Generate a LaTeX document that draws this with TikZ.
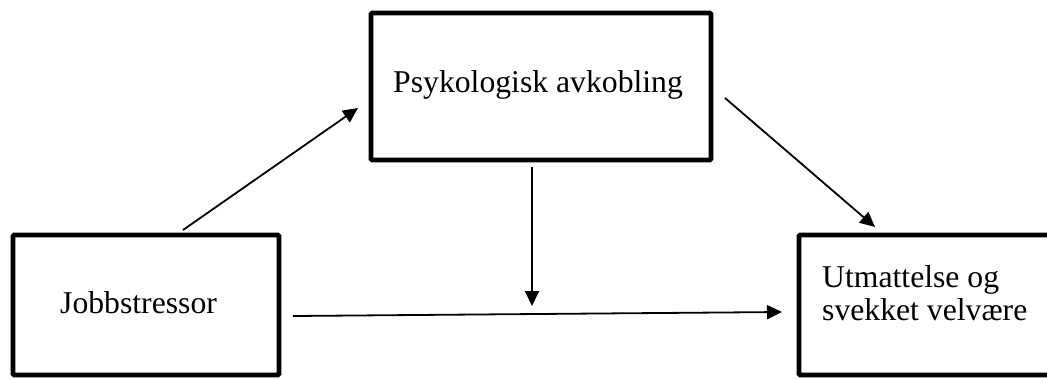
\documentclass[tikz,border=0pt]{standalone}
\usepackage{fontspec}
\setmainfont{Liberation Serif}
\usetikzlibrary{arrows.meta}
\begin{document}
\begin{tikzpicture}[x=1pt,y=-1pt,
  box/.style={draw=black, line width=4.8pt, rounded corners=1.2pt, inner sep=0pt, outer sep=0pt},
  label/.style={anchor=base west, inner sep=0pt, font=\fontsize{31.7}{33}\selectfont},
  link/.style={draw=black, line width=1.8pt, -{Triangle[length=15pt, width=14pt]}}]
  \useasboundingbox (0,0) rectangle (1047,378);
  \fill[white] (0,0) rectangle (1047,378);
  \clip (0,0) rectangle (1047,378);

  % boxes
  \node[box, minimum width=266pt, minimum height=140pt] (stress) at (146,305) {};
  \node[box, minimum width=340pt, minimum height=147pt] (detach) at (541,86.5) {};
  \node[box, minimum width=253pt, minimum height=140pt] (strain) at (925.5,305) {};

  % labels
  \node[label] (stressT) at (60,313) {Jobbstressor};
  \node[label] (detachT) at (393,92) {Psykologisk avkobling};
  \node[label] (strainA) at (822,287) {Utmattelse og};
  \node[label] (strainB) at (822,320) {svekket velvære};

  % connector ends
  \coordinate (a1) at (183,230);
  \coordinate (a2) at (358,108);
  \coordinate (b1) at (725,98);
  \coordinate (b2) at (875,227);
  \coordinate (c1) at (532,167);
  \coordinate (c2) at (532,306);
  \coordinate (d1) at (293,316);
  \coordinate (d2) at (782,312);

  \draw[link] (a1) -- (a2);
  \draw[link] (b1) -- (b2);
  \draw[link] (c1) -- (c2);
  \draw[link] (d1) -- (d2);
\end{tikzpicture}
\end{document}
